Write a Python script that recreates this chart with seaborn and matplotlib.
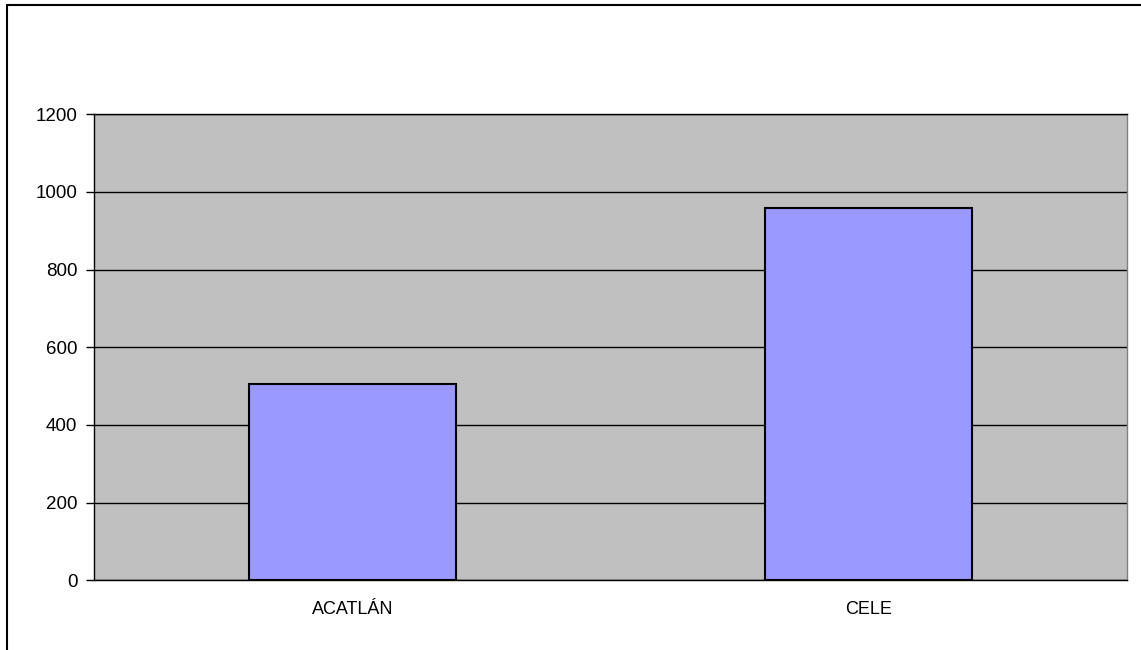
import matplotlib
matplotlib.use("Agg")
import matplotlib.pyplot as plt
import pandas as pd
import seaborn as sns
from matplotlib.lines import Line2D

categories = ["ACATLÁN", "CELE"]
values = [505, 958]
y_ticks = [0, 200, 400, 600, 800, 1000, 1200]

df = pd.DataFrame({"campus": categories, "total": values})

sns.set_style("white")
plt.rcParams["font.family"] = ["Liberation Sans", "DejaVu Sans"]

fig = plt.figure(figsize=(11.41, 6.5), dpi=100)
ax = fig.add_axes([94 / 1141, 1 - 580.3 / 650, (1127 - 94) / 1141, (580.3 - 114.3) / 650])
ax.set_facecolor("#C0C0C0")
ax.set_axisbelow(True)

sns.barplot(
    data=df,
    x="campus",
    y="total",
    color="#9999FF",
    edgecolor="black",
    linewidth=1.5,
    width=0.4,
    saturation=1,
    ax=ax
)

ax.set_xlim(-0.5, 1.5)
ax.set_ylim(0, 1200)
ax.set_yticks(y_ticks)
ax.yaxis.grid(True, color="black", linewidth=1)
ax.xaxis.grid(False)

ax.set_xlabel("")
ax.set_ylabel("")

ax.tick_params(axis="x", which="major", length=0, labelsize=13, pad=15, labelcolor="black")
ax.set_xticks([-0.5, 0.5, 1.5], minor=True)
ax.tick_params(axis="x", which="minor", length=6, width=1, color="black", direction="out")
ax.tick_params(axis="y", length=6, width=1, color="black", direction="out",
               labelsize=13.5, pad=6, left=True, labelcolor="black")

for side in ["left", "bottom", "top"]:
    ax.spines[side].set_color("black")
    ax.spines[side].set_linewidth(1)
ax.spines["right"].set_color("#808080")
ax.spines["right"].set_linewidth(1)

# outer chart border (only top and left are visible in the crop)
fig.add_artist(Line2D([7 / 1141, 1], [1 - 5 / 650, 1 - 5 / 650], color="black", linewidth=1.5))
fig.add_artist(Line2D([7 / 1141, 7 / 1141], [0, 1 - 5 / 650], color="black", linewidth=1.5))

fig.savefig("out.png", dpi=100)
plt.close(fig)
